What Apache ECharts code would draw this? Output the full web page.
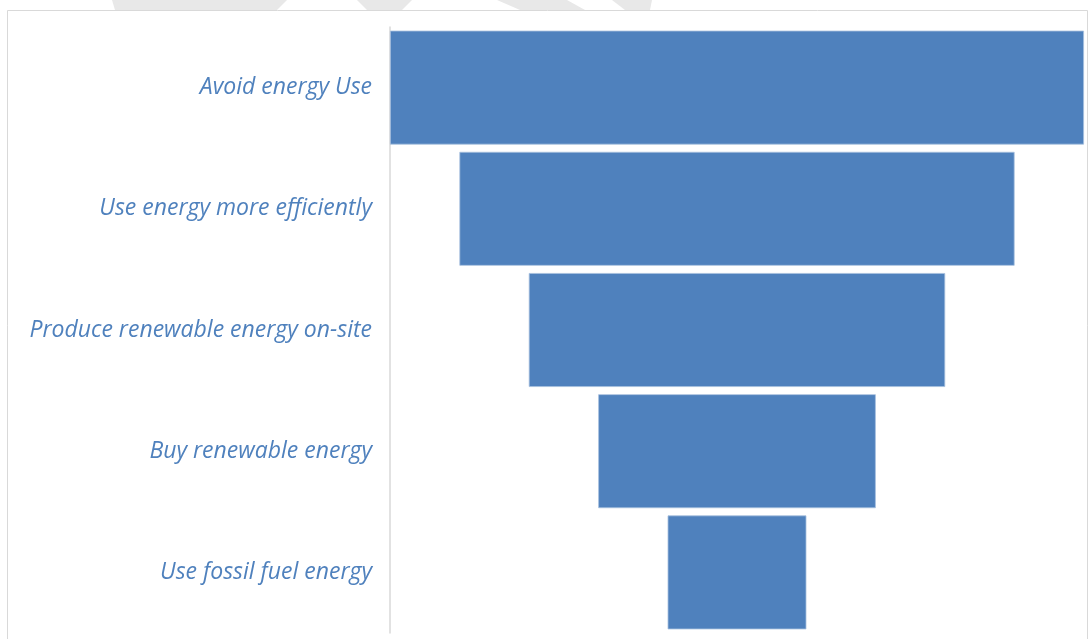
<!DOCTYPE html>
<html>
<head>
<meta charset="utf-8">
<script src="https://cdn.jsdelivr.net/npm/echarts@6/dist/echarts.min.js"></script>
<style>
html,body{margin:0;padding:0;background:#fff;}
#chart{width:1089px;height:639px;}
</style>
</head>
<body>
<div id="chart"></div>
<script>
const categories = ['Avoid energy Use','Use energy more efficiently','Produce renewable energy on-site','Buy renewable energy','Use fossil fuel energy'];
const values = [5, 4, 3, 2, 1];
const maxValue = 5;

const offsets = values.map(v => (maxValue - v) / 2);

const chart = echarts.init(document.getElementById('chart'));
chart.setOption({
  animation: false,
  backgroundColor: '#ffffff',
  graphic: [
    { type: 'polygon', z: -10, shape: { points: [[112,0],[287,0],[277,10],[115,10]] }, style: { fill: '#e8e8e8' } },
    { type: 'polygon', z: -10, shape: { points: [[357,0],[412,0],[402,10],[367,10]] }, style: { fill: '#e8e8e8' } },
    { type: 'polygon', z: -10, shape: { points: [[497,0],[567,0],[585,10],[520,10]] }, style: { fill: '#e8e8e8' } },
    { type: 'polygon', z: -10, shape: { points: [[612,0],[652,0],[650,10],[625,10]] }, style: { fill: '#e8e8e8' } },
    { type: 'rect', z: -5, shape: { x: 7.5, y: 10.5, width: 1080, height: 640 }, style: { fill: 'none', stroke: '#d9d9d9', lineWidth: 1 } }
  ],
  grid: { left: 390, right: 5, top: 27, bottom: 6, containLabel: false },
  xAxis: {
    type: 'value', min: 0, max: maxValue, show: false
  },
  yAxis: {
    type: 'category',
    data: categories,
    inverse: true,
    axisLine: { show: true, lineStyle: { color: '#d9d9d9', width: 1.5 } },
    axisTick: { show: false },
    splitLine: { show: false },
    axisLabel: {
      margin: 18,
      color: '#4F81BD',
      fontStyle: 'italic',
      fontFamily: 'Open Sans',
      fontSize: 23,
      padding: [4, 0, 0, 0]
    }
  },
  series: [
    {
      type: 'bar', stack: 'f', data: offsets, barCategoryGap: '6%',
      itemStyle: { color: 'transparent' }, silent: true
    },
    {
      type: 'bar', stack: 'f', data: values, barCategoryGap: '6%',
      itemStyle: { color: '#4F81BD', borderColor: '#a7c0de', borderWidth: 0.8 }
    }
  ]
});
</script>
</body>
</html>
